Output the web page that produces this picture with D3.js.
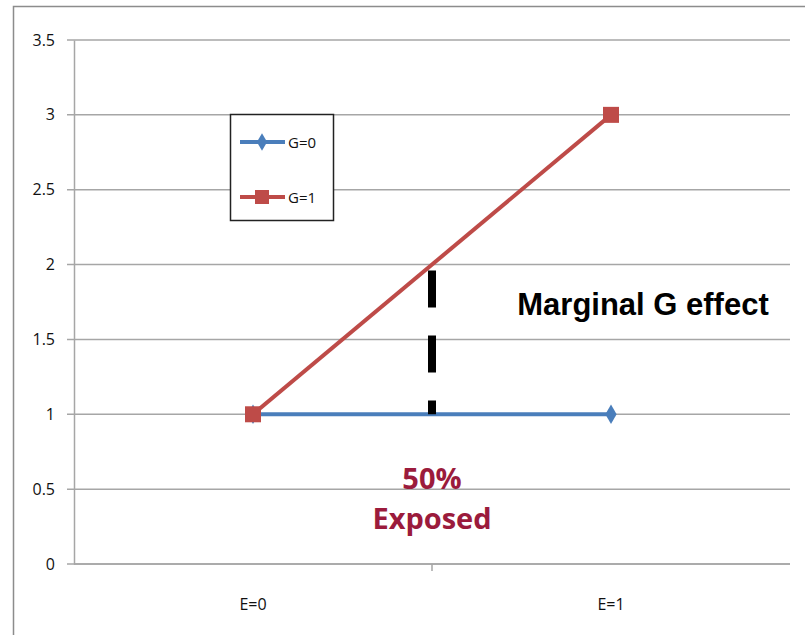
<!DOCTYPE html>
<html>
<head>
<meta charset="utf-8">
<script src="https://cdn.jsdelivr.net/npm/d3@7"></script>
<style>
  body { margin: 0; background: #fff; }
  svg { display: block; }
</style>
</head>
<body>
<svg width="805" height="635"></svg>
<script>
// Chart data
const categories = ["E=0", "E=1"];
const seriesNames = ["G=0", "G=1"];
const g0Values = [1, 1];
const g1Values = [1, 3];
const yTicks = [0, 0.5, 1, 1.5, 2, 2.5, 3, 3.5];
// marginal effect bar: from G=0 to G=1 at 50% exposed
const marginalRange = [1, 2];

const colors = { g0: "#4a7ebb", g1: "#be4b48", note: "#9b1b3c" };
const labelFont = '"Open Sans", "Noto Sans", sans-serif';

let margin = { left: 74, right: 15, top: 40, bottom: 71 };
let w = 805 - margin.left - margin.right;
let h = 635 - margin.top - margin.bottom;

let svg = d3.select("svg");

// Outer chart border
svg.append("rect")
  .attr("x", 13.5)
  .attr("y", 6.5)
  .attr("width", 820)
  .attr("height", 660)
  .attr("fill", "none")
  .attr("stroke", "#8c8c8c")
  .attr("stroke-width", 1.5);

let g = svg.append("g")
  .attr("transform", `translate(${margin.left},${margin.top})`);

// Scales
let xScale = d3.scaleBand().domain(categories).range([0, w]).padding(0);
let yScale = d3.scaleLinear().domain([0, 3.5]).range([h, 0]);
let cx = d => xScale(d) + xScale.bandwidth() / 2;

// Gridlines
g.selectAll("line.grid")
  .data(yTicks)
  .enter()
  .append("line")
  .attr("class", "grid")
  .attr("x1", -7)
  .attr("x2", w)
  .attr("y1", d => yScale(d))
  .attr("y2", d => yScale(d))
  .attr("stroke", "#a6a6a6")
  .attr("stroke-width", 1.5);

// Y-Axis
let yAxis = d3.axisLeft(yScale).tickValues(yTicks).tickSize(0).tickPadding(19)
  .tickFormat(d3.format("~g"));
g.append("g")
  .call(yAxis)
  .call(a => a.select(".domain").attr("stroke", "#a6a6a6").attr("stroke-width", 1.5))
  .call(a => a.selectAll("text")
    .style("font-family", labelFont)
    .style("font-size", "16px")
    .style("fill", "#111"));

// X-Axis (ticks on band boundaries, labels centred)
g.append("line")
  .attr("x1", 0).attr("x2", w)
  .attr("y1", h).attr("y2", h)
  .attr("stroke", "#a6a6a6").attr("stroke-width", 1.5);
g.append("line")
  .attr("x1", xScale("E=1")).attr("x2", xScale("E=1"))
  .attr("y1", h).attr("y2", h + 7)
  .attr("stroke", "#a6a6a6").attr("stroke-width", 1.5);
g.selectAll("text.xlab")
  .data(categories)
  .enter()
  .append("text")
  .attr("class", "xlab")
  .attr("x", d => cx(d))
  .attr("y", h + 46)
  .attr("text-anchor", "middle")
  .style("font-family", labelFont)
  .style("font-size", "16px")
  .style("fill", "#111")
  .text(d => d);

// Lines
let line = d3.line().x(d => cx(d.cat)).y(d => yScale(d.v));
let g0Data = categories.map((c, i) => ({ cat: c, v: g0Values[i] }));
let g1Data = categories.map((c, i) => ({ cat: c, v: g1Values[i] }));

g.append("path")
  .datum(g0Data)
  .attr("d", line)
  .attr("fill", "none")
  .attr("stroke", colors.g0)
  .attr("stroke-width", 4);

g.append("path")
  .datum(g1Data)
  .attr("d", line)
  .attr("fill", "none")
  .attr("stroke", colors.g1)
  .attr("stroke-width", 4);

// Markers
let diamond = d3.symbol().type(d3.symbolDiamond).size(110);
g.selectAll("path.m0")
  .data(g0Data)
  .enter()
  .append("path")
  .attr("class", "m0")
  .attr("d", diamond)
  .attr("transform", d => `translate(${cx(d.cat)},${yScale(d.v)})`)
  .attr("fill", colors.g0);

g.selectAll("rect.m1")
  .data(g1Data)
  .enter()
  .append("rect")
  .attr("class", "m1")
  .attr("x", d => cx(d.cat) - 8)
  .attr("y", d => yScale(d.v) - 8)
  .attr("width", 16)
  .attr("height", 16)
  .attr("fill", colors.g1);

// Marginal G effect dashed line
let midX = xScale("E=1");
g.append("line")
  .attr("x1", midX).attr("x2", midX)
  .attr("y1", yScale(marginalRange[1]) + 6)
  .attr("y2", yScale(marginalRange[0]))
  .attr("stroke", "#000")
  .attr("stroke-width", 8)
  .attr("stroke-dasharray", "37,28");

// Annotations
svg.append("text")
  .text("Marginal G effect")
  .attr("x", 643)
  .attr("y", 315)
  .attr("text-anchor", "middle")
  .style("font-family", '"Liberation Sans", Arial, sans-serif')
  .style("font-weight", "bold")
  .style("font-size", "31px")
  .style("fill", "#000");

svg.append("text")
  .attr("x", midX + margin.left)
  .attr("text-anchor", "middle")
  .style("font-family", labelFont)
  .style("font-weight", "bold")
  .style("font-size", "29px")
  .style("fill", colors.note)
  .selectAll("tspan")
  .data(["50%", "Exposed"])
  .enter()
  .append("tspan")
  .attr("x", midX + margin.left)
  .attr("y", (d, i) => 489 + i * 40)
  .text(d => d);

// Legend
let legendData = [
  { name: seriesNames[0], color: colors.g0, shape: "diamond" },
  { name: seriesNames[1], color: colors.g1, shape: "square" }
];

let legend = svg.append("g")
  .attr("id", "legend")
  .attr("transform", "translate(230,114)");

legend.append("rect")
  .attr("x", 0.5).attr("y", 0.5)
  .attr("width", 103).attr("height", 106)
  .attr("fill", "#fff")
  .attr("stroke", "#222")
  .attr("stroke-width", 1.5);

let items = legend.selectAll("g.item")
  .data(legendData)
  .enter()
  .append("g")
  .attr("class", "item")
  .attr("transform", (d, i) => `translate(0,${28 + i * 55})`);

items.append("line")
  .attr("x1", 10).attr("x2", 55)
  .attr("y1", 0).attr("y2", 0)
  .attr("stroke", d => d.color)
  .attr("stroke-width", 4);

items.filter(d => d.shape === "diamond")
  .append("path")
  .attr("d", d3.symbol().type(d3.symbolDiamond).size(90))
  .attr("transform", "translate(32,0)")
  .attr("fill", d => d.color);

items.filter(d => d.shape === "square")
  .append("rect")
  .attr("x", 25).attr("y", -7)
  .attr("width", 14).attr("height", 14)
  .attr("fill", d => d.color);

items.append("text")
  .attr("x", 58)
  .attr("y", 6)
  .style("font-family", labelFont)
  .style("font-size", "15px")
  .style("fill", "#111")
  .text(d => d.name);
</script>
</body>
</html>
